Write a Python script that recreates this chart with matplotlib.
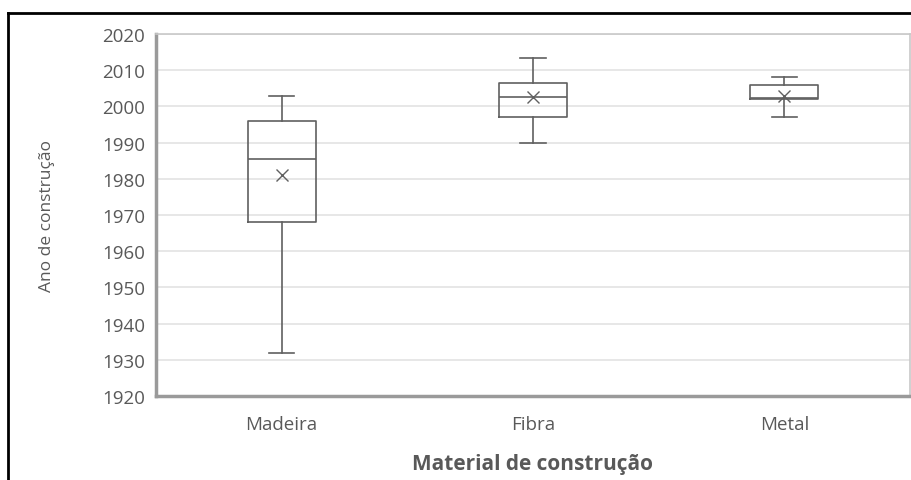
import matplotlib
matplotlib.use("Agg")
import matplotlib.pyplot as plt
from matplotlib.lines import Line2D

plt.rcParams['font.family'] = ['Open Sans', 'DejaVu Sans']

# box statistics (ano de construção)
categories = ['Madeira', 'Fibra', 'Metal']
whisker_low = [1932, 1990, 1997]
q1 = [1968, 1997, 2002]
median = [1985.5, 2002.5, 2002.3]
q3 = [1996, 2006.5, 2006]
whisker_high = [2003, 2013.5, 2008]
mean = [1981, 2002.5, 2003]

text_col = '#595959'
line_col = '#606060'

fig = plt.figure(figsize=(9.12, 4.81), dpi=100)
ax = fig.add_axes([156 / 912, 1 - 397 / 481, (910 - 156) / 912, (397 - 35) / 481])

stats = []
for i, name in enumerate(categories):
    stats.append({'label': name, 'whislo': whisker_low[i], 'q1': q1[i], 'med': median[i],
                  'q3': q3[i], 'whishi': whisker_high[i], 'mean': mean[i], 'fliers': []})

ax.bxp(stats, positions=[1, 2, 3], widths=0.27, showmeans=True, showfliers=False,
       boxprops=dict(color=line_col, linewidth=1.2),
       medianprops=dict(color=line_col, linewidth=1.2),
       whiskerprops=dict(color=line_col, linewidth=1.2),
       capprops=dict(color=line_col, linewidth=1.2),
       meanprops=dict(marker='x', markeredgecolor=line_col, markersize=8, markeredgewidth=1.0),
       capwidths=0.1)

ax.set_xlim(0.5, 3.5)
ax.set_ylim(1920, 2020)
ax.set_yticks(range(1920, 2021, 10))
ax.yaxis.grid(True, color='#e3e3e3', linewidth=1.2)
ax.set_axisbelow(True)

for side in ['top', 'right']:
    ax.spines[side].set_color('#c8c8c8')
    ax.spines[side].set_linewidth(1.2)
for side in ['left', 'bottom']:
    ax.spines[side].set_color('#9a9a9a')
    ax.spines[side].set_linewidth(2.5)

ax.tick_params(axis='both', length=0, colors=text_col, labelsize=13.5)
ax.tick_params(axis='x', pad=14)
ax.tick_params(axis='y', pad=8)

ax.set_xlabel('Material de construção', fontsize=15, fontweight='bold', color=text_col, labelpad=14)
ax.set_ylabel('Ano de construção', fontsize=12.5, color=text_col, labelpad=34)

# black outer frame (top and left edges visible)
fig.add_artist(Line2D([8 / 912, 1], [1 - 14 / 481, 1 - 14 / 481], color='black', linewidth=2,
                      transform=fig.transFigure))
fig.add_artist(Line2D([8 / 912, 8 / 912], [0, 1 - 14 / 481], color='black', linewidth=2,
                      transform=fig.transFigure))

fig.savefig('out.png', dpi=100, facecolor='white')
